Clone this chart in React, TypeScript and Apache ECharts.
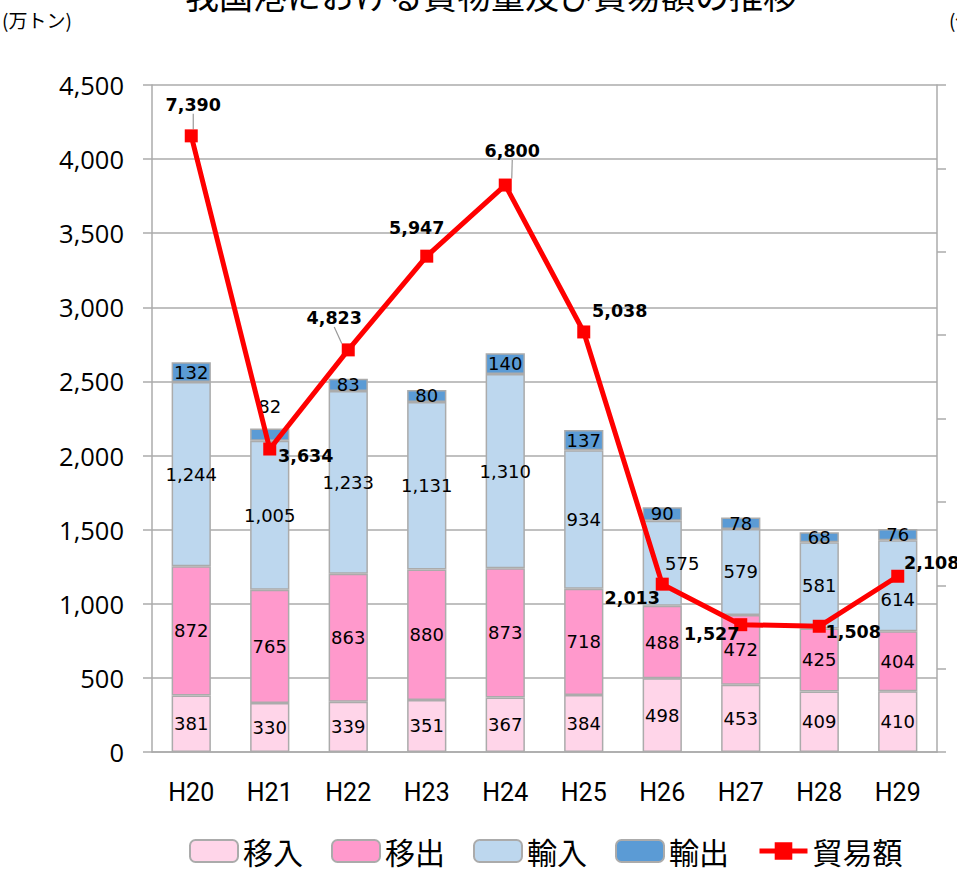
import React, { useEffect, useRef } from "react";
import * as echarts from "echarts";

const categories = ["H20", "H21", "H22", "H23", "H24", "H25", "H26", "H27", "H28", "H29"];
const inbound = [381, 330, 339, 351, 367, 384, 498, 453, 409, 410]; // 移入
const outbound = [872, 765, 863, 880, 873, 718, 488, 472, 425, 404]; // 移出
const imports = [1244, 1005, 1233, 1131, 1310, 934, 575, 579, 581, 614]; // 輸入
const exports = [132, 82, 83, 80, 140, 137, 90, 78, 68, 76]; // 輸出
const tradeValue = [7390, 3634, 4823, 5947, 6800, 5038, 2013, 1527, 1508, 2108]; // 貿易額
const leftTicks = { min: 0, max: 4500, interval: 500 };
const rightTicks = { min: 0, max: 8000, interval: 1000 };

// label placement offsets (layout, not data)
const lineLabelOffsets: [number, number][] = [
  [2, -31], [36, 7], [-14, -32], [-10, -28], [7, -34], [36, -21], [-30, 14], [-29, 9], [34, 6], [34, -13],
];
const leaderIdx = [0, 2, 4];
const importLabelOffsets: Record<number, [number, number]> = { 6: [20, 0], 9: [0, 14] };

const fmt = (v: number) => v.toLocaleString("en-US");
const GRAY = "#ababab";

export default function App() {
  const ref = useRef<HTMLDivElement>(null);
  useEffect(() => {
    const chart = echarts.init(ref.current!, null, { renderer: "svg" });
    const barLabel = {
      show: true,
      color: "#000",
      fontSize: 18,
      fontFamily: "DejaVu Sans",
      formatter: (p: any) => fmt(p.value),
    };
    const barCommon = {
      type: "bar",
      stack: "total",
      barWidth: "50%",
      yAxisIndex: 0,
    };
    chart.setOption({
      animation: false,
      backgroundColor: "#fff",
      grid: { left: 152, right: 20, top: 85, bottom: 119 },
      graphic: [
        {
          type: "text",
          style: {
            text: "我国港における貨物量及び貿易額の推移",
            x: 491,
            y: 11,
            fontSize: 34,
            fontFamily: "Noto Sans CJK JP",
            fill: "#000",
            align: "center",
            verticalAlign: "bottom",
          },
        },
        {
          type: "text",
          style: {
            text: "(万トン)",
            x: 2,
            y: 19,
            fontSize: 19,
            fontFamily: "Noto Sans CJK JP",
            fill: "#000",
            align: "left",
            verticalAlign: "middle",
          },
        },
        {
          type: "text",
          style: {
            text: "(億円)",
            x: 949,
            y: 19,
            fontSize: 19,
            fontFamily: "Noto Sans CJK JP",
            fill: "#000",
            align: "left",
            verticalAlign: "middle",
          },
        },
      ],
      legend: {
        left: 189,
        top: 836,
        padding: 0,
        itemWidth: 48,
        itemHeight: 22,
        itemGap: 28,
        textStyle: { fontSize: 30, fontFamily: "Noto Sans CJK JP", color: "#000" },
        data: ["移入", "移出", "輸入", "輸出", { name: "貿易額", lineStyle: { width: 5 } }],
      },
      xAxis: {
        type: "category",
        data: categories,
        axisLine: { lineStyle: { color: GRAY, width: 1.5 } },
        axisTick: { show: false },
        axisLabel: { fontSize: 25, fontFamily: "Roboto", color: "#000", margin: 28 },
      },
      yAxis: [
        {
          type: "value",
          ...leftTicks,
          axisLine: { show: true, lineStyle: { color: GRAY, width: 1.5 } },
          axisTick: { show: true, length: 9, lineStyle: { color: GRAY, width: 1.5 } },
          axisLabel: { fontSize: 25.5, fontFamily: "Open Sans", color: "#000", margin: 28, formatter: (v: number) => fmt(v) },
          splitLine: { lineStyle: { color: GRAY, width: 1.5 } },
        },
        {
          type: "value",
          ...rightTicks,
          position: "right",
          axisLine: { show: true, lineStyle: { color: GRAY, width: 1.5 } },
          axisTick: { show: true, length: 9, lineStyle: { color: GRAY, width: 1.5 } },
          axisLabel: { show: false },
          splitLine: { show: false },
        },
      ],
      series: [
        {
          ...barCommon,
          name: "移入",
          data: inbound,
          itemStyle: { color: "#ffd5e9", borderColor: GRAY, borderWidth: 1.5 },
          label: barLabel,
        },
        {
          ...barCommon,
          name: "移出",
          data: outbound,
          itemStyle: { color: "#ff99cc", borderColor: GRAY, borderWidth: 1.5 },
          label: barLabel,
        },
        {
          ...barCommon,
          name: "輸入",
          data: imports.map((v, i) =>
            importLabelOffsets[i] ? { value: v, label: { offset: importLabelOffsets[i] } } : v
          ),
          itemStyle: { color: "#bdd7ee", borderColor: GRAY, borderWidth: 1.5 },
          label: barLabel,
        },
        {
          ...barCommon,
          name: "輸出",
          data: exports.map((v, i) => (i === 1 ? { value: v, label: { position: "top", distance: 13 } } : v)),
          itemStyle: { color: "#5b9bd5", borderColor: GRAY, borderWidth: 1.5 },
          label: barLabel,
        },
        {
          name: "貿易額",
          type: "line",
          yAxisIndex: 1,
          data: tradeValue.map((v, i) => ({
            value: v,
            labelLine: { show: leaderIdx.includes(i) },
          })),
          symbol: "rect",
          symbolSize: 13,
          lineStyle: { color: "#ff0000", width: 5 },
          itemStyle: { color: "#ff0000" },
          label: {
            show: true,
            position: "inside",
            color: "#000",
            fontSize: 17.5,
            fontWeight: "bold",
            fontFamily: "DejaVu Sans",
            formatter: (p: any) => fmt(p.value),
          },
          labelLine: { show: false, lineStyle: { color: "#999", width: 1.2 }, length2: 0 },
          labelLayout: (params: any) => {
            const o = lineLabelOffsets[params.dataIndex];
            return { dx: o[0], dy: o[1] };
          },
          z: 5,
        },
      ],
    });
    return () => chart.dispose();
  }, []);
  return (
    <div
      ref={ref}
      style={{ position: "fixed", left: 0, top: 0, width: 957, height: 871 }}
    />
  );
}
